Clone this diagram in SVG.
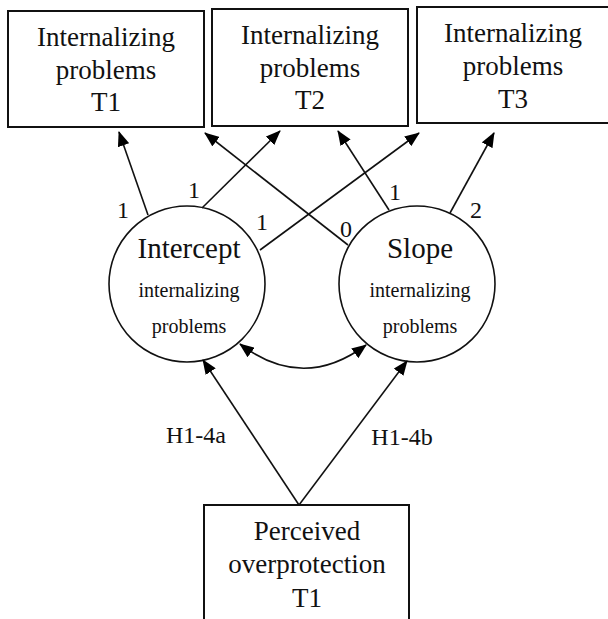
<svg xmlns="http://www.w3.org/2000/svg" width="608" height="619" viewBox="0 0 608 619">
<defs>
<marker id="ah" markerUnits="userSpaceOnUse" markerWidth="15" markerHeight="12" refX="14" refY="6" orient="auto-start-reverse">
<path d="M0,0 L15,6 L0,12 z" fill="#000"/>
</marker>
<style>
text{font-family:"Liberation Serif","Times New Roman",serif;fill:#111;text-anchor:middle}
.box{fill:#fff;stroke:#111;stroke-width:2}
.circ{fill:#fff;stroke:#111;stroke-width:1.6}
.big{font-size:27px}
.lat{font-size:29px}
.sm{font-size:20px}
.lbl{font-size:24px}
.conn line,.conn path{stroke:#111;stroke-width:1.6;fill:none;marker-end:url(#ah)}
</style>
</defs>
<rect width="608" height="619" fill="#fff"/>
<g id="t1">
<rect class="box" x="8" y="11" width="196" height="116"/>
<text class="big" x="106" y="46">Internalizing</text>
<text class="big" x="106" y="79">problems</text>
<text class="big" x="106" y="111">T1</text>
</g>
<g id="t2">
<rect class="box" x="212" y="9" width="196" height="117"/>
<text class="big" x="310" y="44">Internalizing</text>
<text class="big" x="310" y="77">problems</text>
<text class="big" x="310" y="109">T2</text>
</g>
<g id="t3">
<rect class="box" x="417" y="7" width="194" height="116"/>
<text class="big" x="513" y="42">Internalizing</text>
<text class="big" x="513" y="75">problems</text>
<text class="big" x="513" y="108">T3</text>
</g>
<g id="intercept">
<circle class="circ" cx="187" cy="284" r="78"/>
<text class="lat" x="189" y="258">Intercept</text>
<text class="sm" x="189" y="297">internalizing</text>
<text class="sm" x="189" y="333">problems</text>
</g>
<g id="slope">
<circle class="circ" cx="417" cy="284" r="78"/>
<text class="lat" x="420" y="258">Slope</text>
<text class="sm" x="420" y="297">internalizing</text>
<text class="sm" x="420" y="333">problems</text>
</g>
<g id="perceived">
<rect class="box" x="204" y="505" width="205" height="120"/>
<text class="big" x="307" y="540">Perceived</text>
<text class="big" x="307" y="573">overprotection</text>
<text class="big" x="307" y="607">T1</text>
</g>
<g class="conn" id="connectors">
<line x1="148" y1="215" x2="119" y2="132"/>
<line x1="202" y1="208" x2="280" y2="131"/>
<line x1="260" y1="250" x2="419" y2="133"/>
<line x1="348" y1="245" x2="205" y2="133"/>
<line x1="389" y1="210" x2="338" y2="131"/>
<line x1="450" y1="213" x2="494" y2="133"/>
<line x1="299" y1="505" x2="203" y2="360"/>
<line x1="299" y1="505" x2="407" y2="361"/>
<path d="M240,344 Q303,392 366,345" style="marker-start:url(#ah)"/>
</g>
<g id="labels">
<text class="lbl" x="123" y="218">1</text>
<text class="lbl" x="194" y="198">1</text>
<text class="lbl" x="262" y="230">1</text>
<text class="lbl" x="346" y="237">0</text>
<text class="lbl" x="395" y="200">1</text>
<text class="lbl" x="476" y="218">2</text>
<text class="lbl" x="196" y="443">H1-4a</text>
<text class="lbl" x="402" y="445">H1-4b</text>
</g>
</svg>
